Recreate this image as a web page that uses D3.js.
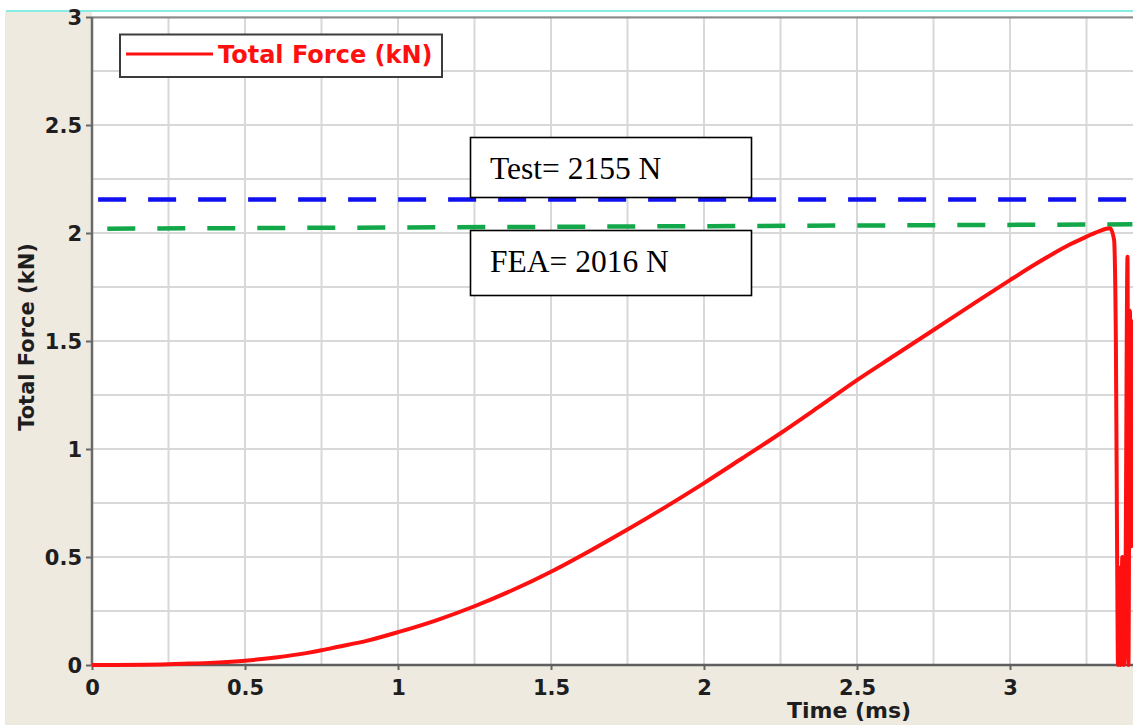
<!DOCTYPE html>
<html lang="en">
<head>
<meta charset="utf-8">
<script src="https://d3js.org/d3.v7.min.js"></script>
<style>
  body { margin: 0; background: #fff; }
  .tick text { font-family: "DejaVu Sans", sans-serif; font-weight: bold; font-size: 21px; fill: #1e1e1e; }
</style>
</head>
<body>
<script>
// chart size
var width = 1133;
var height = 725;

// data
var timeMs = [0, 0.25, 0.3, 0.4, 0.5, 0.6, 0.7, 0.75, 0.8, 0.9, 1.0, 1.125, 1.25, 1.375, 1.5,
  1.625, 1.75, 1.875, 2.0, 2.125, 2.25, 2.375, 2.5, 2.625, 2.75, 2.875, 3.0, 3.1, 3.2, 3.25,
  3.29, 3.327, 3.34, 3.346, 3.35, 3.353, 3.358, 3.362, 3.367, 3.372, 3.377, 3.384, 3.387,
  3.392, 3.396, 3.4];
var forceKN = [0, 0.004, 0.006, 0.011, 0.02, 0.035, 0.055, 0.068, 0.083, 0.113, 0.152, 0.207,
  0.272, 0.347, 0.432, 0.527, 0.627, 0.732, 0.842, 0.957, 1.073, 1.195, 1.319, 1.435,
  1.551, 1.667, 1.782, 1.87, 1.95, 1.983, 2.008, 2.022, 1.97, 1.5, 0.53, 0.0, 0.45, 0.0,
  0.5, 0.0, 0.3, 1.89, 0.0, 1.64, 0.55, 1.6];
var testKN = [2.155, 2.155];   // blue dashed, Test= 2155 N
var feaKN = [2.02, 2.04];      // green dashed, FEA= 2016 N
var testTime = [0.02, 3.4];
var feaTime = [0.05, 3.4];

var xTicks = [0, 0.5, 1, 1.5, 2, 2.5, 3];
var xTickLabels = ["0", "0.5", "1", "1.5", "2", "2.5", "3"];
var yTicks = [0, 0.5, 1, 1.5, 2, 2.5, 3];
var yTickLabels = ["0", "0.5", "1", "1.5", "2", "2.5", "3"];
var legendLabel = "Total Force (kN)";
var testLabel = "Test= 2155 N";
var feaLabel = "FEA= 2016 N";

var x = d3.scaleLinear().domain([0, 3.4]).range([92, 92 + 306 * 3.4]);
var y = d3.scaleLinear().domain([0, 3]).range([665, 17]);

var svg = d3.select("body").append("svg")
  .attr("width", width)
  .attr("height", height);

// frame backgrounds
svg.append("rect").attr("x", 6).attr("y", 12).attr("width", width - 6).attr("height", height - 12)
  .attr("fill", "#eeeae0");
svg.append("rect").attr("x", 92).attr("y", 12).attr("width", width - 92).attr("height", 653)
  .attr("fill", "#fff");
svg.append("line").attr("x1", 6).attr("x2", width).attr("y1", 11).attr("y2", 11)
  .attr("stroke", "#86ece4").attr("stroke-width", 2);
svg.append("line").attr("x1", 5.5).attr("x2", 5.5).attr("y1", 12).attr("y2", height)
  .attr("stroke", "#fbe2d4").attr("stroke-width", 1);

// grid
var grid = svg.append("g").attr("stroke", "#d8d8d8").attr("stroke-width", 2);
grid.selectAll(".gx").data(d3.range(0.25, 3.41, 0.25)).enter().append("line")
  .attr("x1", function(d) { return x(d); }).attr("x2", function(d) { return x(d); })
  .attr("y1", y(3)).attr("y2", y(0));
grid.selectAll(".gy").data(d3.range(0.25, 3.01, 0.25)).enter().append("line")
  .attr("x1", x(0)).attr("x2", width)
  .attr("y1", function(d) { return y(d); }).attr("y2", function(d) { return y(d); });

// top border
svg.append("line").attr("x1", x(0)).attr("x2", width).attr("y1", y(3) + 0.5).attr("y2", y(3) + 0.5)
  .attr("stroke", "#8a8a8a").attr("stroke-width", 2);

// axes
var xAxis = d3.axisBottom(x).tickValues(xTicks).tickSize(5)
  .tickFormat(function(d, i) { return xTickLabels[i]; });
var yAxis = d3.axisLeft(y).tickValues(yTicks).tickSize(6)
  .tickFormat(function(d, i) { return yTickLabels[i]; });

var gx = svg.append("g").attr("transform", "translate(0," + y(0) + ")").call(xAxis);
gx.select(".domain").remove();
gx.selectAll(".tick line").attr("stroke", "#666").attr("stroke-width", 2);
gx.selectAll(".tick text").attr("y", 0).attr("dy", 30);

var gy = svg.append("g").attr("transform", "translate(" + x(0) + ",0)").call(yAxis);
gy.select(".domain").remove();
gy.selectAll(".tick line").attr("stroke", "#666").attr("stroke-width", 2);
gy.selectAll(".tick text").attr("x", -10).attr("dy", "0.36em");

svg.append("line").attr("x1", x(0)).attr("x2", x(0)).attr("y1", y(3)).attr("y2", y(0) + 1)
  .attr("stroke", "#6a6a6a").attr("stroke-width", 2.5);
svg.append("line").attr("x1", x(0)).attr("x2", width).attr("y1", y(0)).attr("y2", y(0))
  .attr("stroke", "#5e5e5e").attr("stroke-width", 2.5);

// axis titles
svg.append("text")
  .attr("transform", "translate(34,337) rotate(-90)")
  .attr("text-anchor", "middle")
  .style("font-family", "DejaVu Sans, sans-serif").style("font-weight", "bold").style("font-size", "21px")
  .attr("fill", "#1e1e1e")
  .text("Total Force (kN)");
svg.append("text")
  .attr("x", 849).attr("y", 718)
  .attr("text-anchor", "middle")
  .style("font-family", "DejaVu Sans, sans-serif").style("font-weight", "bold").style("font-size", "22px")
  .attr("fill", "#1e1e1e")
  .text("Time (ms)");

// reference lines
var refLine = d3.line()
  .x(function(d) { return x(d[0]); })
  .y(function(d) { return y(d[1]); });

svg.append("path")
  .attr("d", refLine(d3.zip(testTime, testKN)))
  .attr("fill", "none").attr("stroke", "#1010f0").attr("stroke-width", 4.5)
  .attr("stroke-dasharray", "28,22");
svg.append("path")
  .attr("d", refLine(d3.zip(feaTime, feaKN)))
  .attr("fill", "none").attr("stroke", "#12a84a").attr("stroke-width", 4.5)
  .attr("stroke-dasharray", "28,22");

// force curve
var forceLine = d3.line()
  .curve(d3.curveMonotoneX)
  .x(function(d) { return x(d[0]); })
  .y(function(d) { return y(d[1]); });

svg.append("path")
  .attr("d", forceLine(d3.zip(timeMs, forceKN)))
  .attr("fill", "none").attr("stroke", "#ff1010").attr("stroke-width", 4)
  .attr("stroke-linejoin", "round");

// legend
var legend = svg.append("g");
legend.append("rect").attr("x", 120).attr("y", 34.5).attr("width", 322).attr("height", 42.5)
  .attr("fill", "#fff").attr("stroke", "#3c3c3c").attr("stroke-width", 2);
legend.append("line").attr("x1", 126).attr("x2", 213).attr("y1", 54).attr("y2", 54)
  .attr("stroke", "#ff1010").attr("stroke-width", 3);
legend.append("text").attr("x", 218).attr("y", 63)
  .style("font-family", "DejaVu Sans, sans-serif").style("font-weight", "bold").style("font-size", "24px")
  .attr("fill", "#ff1010")
  .text(legendLabel);

// annotation boxes
var boxes = [
  { label: testLabel, top: 137.5, h: 60, base: 178.5 },
  { label: feaLabel, top: 230.5, h: 65, base: 271.5 }
];
var ann = svg.selectAll(".ann").data(boxes).enter().append("g");
ann.append("rect")
  .attr("x", 470.5).attr("y", function(d) { return d.top; })
  .attr("width", 281).attr("height", function(d) { return d.h; })
  .attr("fill", "#fff").attr("stroke", "#000").attr("stroke-width", 1.6);
ann.append("text")
  .attr("x", 490).attr("y", function(d) { return d.base; })
  .style("font-family", "Liberation Serif, Times New Roman, serif").style("font-size", "31.5px")
  .attr("fill", "#000")
  .text(function(d) { return d.label; });
</script>
</body>
</html>
